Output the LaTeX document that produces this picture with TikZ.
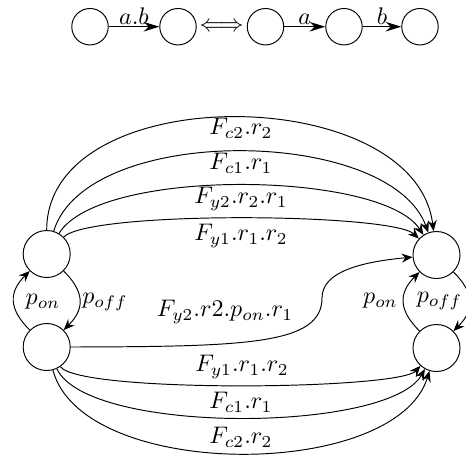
\documentclass[tikz,border=0pt]{standalone}
\usetikzlibrary{arrows.meta}
\begin{document}
\begin{tikzpicture}[x=0.4167pt,y=-0.4167pt,
  st/.style={circle,draw,minimum size=19.6pt,inner sep=0pt},
  sm/.style={circle,draw,minimum size=15.2pt,inner sep=0pt},
  tr/.style={-{Stealth[length=4.6pt,width=3.8pt,inset=1.6pt]}},
  trb/.style={-{Stealth[length=6.5pt,width=4pt]},line width=0.6pt},
  lab/.style={inner sep=0pt}]
\useasboundingbox (0,0) rectangle (466,456);
% top row
\node[sm] (s1) at (90,26.7) {};
\node[sm] (s2) at (178,26.7) {};
\node (eq) at (221.7,26.7) {$\Longleftrightarrow$};
\node[sm] (s3) at (265.5,26.7) {};
\node[sm] (s4) at (344,26.7) {};
\node[sm] (s5) at (420,26.7) {};
\draw[trb] (s1) -- node[above,inner sep=0.5pt] {$a.b$} (s2);
\draw[trb] (s3) -- node[above,inner sep=0.5pt] {$a$} (s4);
\draw[trb] (s4) -- node[above,inner sep=0.5pt] {$b$} (s5);
% states
\node[st] (LT) at (46.7,254) {};
\node[st] (LB) at (46.7,347) {};
\node[st] (RT) at (436.5,255) {};
\node[st] (RB) at (436.5,348) {};
% loops
\draw[tr] (LB) to[bend left=45,looseness=1.3] (LT);
\draw[tr] (LT) to[bend left=45,looseness=1.3] (LB);
\draw[tr] (RB) to[bend left=45,looseness=1.3] (RT);
\draw[tr] (RT) to[bend left=45,looseness=1.3] (RB);
\node[lab] (pon1) at (43,302) {$p_{on}$};
\node[lab] (poff1) at (105,302) {$p_{off}$};
\node[lab] (pon2) at (380.5,301) {$p_{on}$};
\node[lab] (poff2) at (439.5,301) {$p_{off}$};
% top group
\draw[tr] (LT) to[out=90,in=97,looseness=1.0] (RT);
\draw[tr] (LT) to[out=73,in=110,looseness=0.77] (RT);
\draw[tr] (LT) to[out=59,in=123,looseness=0.54] (RT);
\draw[tr] (LT) to[out=45,in=137,looseness=0.27] (RT);
\node[lab] (t1) at (241,128) {$F_{c2}.r_2$};
\node[lab] (t2) at (241,163) {$F_{c1}.r_1$};
\node[lab] (t3) at (241,199) {$F_{y2}.r_2.r_1$};
\node[lab] (t4) at (241,236) {$F_{y1}.r_1.r_2$};
% bottom group
\draw[tr] (LB) to[out=-55,in=-132,looseness=0.23] (RB);
\draw[tr] (LB) to[out=-65,in=-119,looseness=0.51] (RB);
\draw[tr] (LB) to[out=-75,in=-107,looseness=0.78] (RB);
\node[lab] (b1) at (242,367) {$F_{y1}.r_1.r_2$};
\node[lab] (b2) at (241,402) {$F_{c1}.r_1$};
\node[lab] (b3) at (241,437) {$F_{c2}.r_2$};
% curvy connector
\coordinate (m) at (322,298);
\draw[tr] (LB.east) .. controls (245,346.5) and (322,345) .. (m)
  .. controls (322,272) and (360,262) .. (RT.185);
\node[lab] (mid) at (225,312) {$F_{y2}.r2.p_{on}.r_1$};
\end{tikzpicture}
\end{document}
